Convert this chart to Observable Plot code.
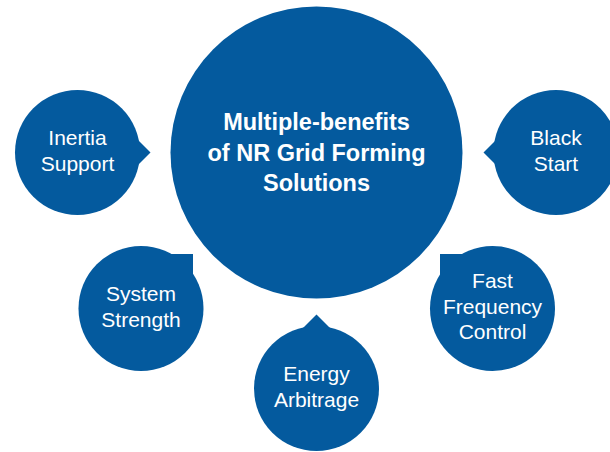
<!DOCTYPE html>
<html>
<head>
<meta charset="utf-8">
<script src="https://cdn.jsdelivr.net/npm/d3@7"></script>
<script src="https://cdn.jsdelivr.net/npm/@observablehq/plot@0.6"></script>
<style>
  html, body { margin: 0; padding: 0; background: #ffffff; }
  #chart svg { display: block; }
</style>
</head>
<body>
<div id="chart"></div>
<script>
// ---- Diagram content ----
const centerLabel = ["Multiple-benefits\nof NR Grid Forming\nSolutions"];
const centerX = [316];
const centerY = [152];

const benefits = ["Inertia\nSupport", "Black\nStart", "System\nStrength", "Energy\nArbitrage", "Fast\nFrequency\nControl"];
const benefitX = [77, 555.5, 140.5, 316, 492];
const benefitY = [152, 152, 308, 388, 308];
// where each bubble's pointer reaches toward the centre circle
const pointerX = [150, 483, 193, 316, 440];
const pointerY = [152, 152, 254, 314, 254];
const pointerKind = ["tip", "tip", "corner", "tip", "corner"];

const BLUE = "#045a9e";
const FONT = "Liberation Sans, Arial, Helvetica, sans-serif";

// ---- build tables for the marks ----
const nodes = benefits.map((label, i) => ({
  label, cx: benefitX[i], cy: benefitY[i], px: pointerX[i], py: pointerY[i], kind: pointerKind[i]
}));
const center = centerLabel.map((label, i) => ({label, cx: centerX[i], cy: centerY[i]}));

// triangular speech-bubble tips
const tipRows = [];
nodes.filter(d => d.kind === "tip").forEach((d, k) => {
  const dx = d.px - d.cx, dy = d.py - d.cy, len = Math.hypot(dx, dy);
  const ux = dx / len, uy = dy / len, vx = -uy, vy = ux, b = 20;
  tipRows.push({id: k, x: d.px, y: d.py});
  tipRows.push({id: k, x: d.px - ux * b + vx * b, y: d.py - uy * b + vy * b});
  tipRows.push({id: k, x: d.px - ux * b - vx * b, y: d.py - uy * b - vy * b});
});
const cornerRows = nodes.filter(d => d.kind === "corner");

const chart = Plot.plot({
  width: 610,
  height: 452,
  margin: 0,
  x: {domain: [0, 610], range: [0, 610], axis: null},
  y: {domain: [0, 452], range: [0, 452], axis: null},
  style: {background: "#ffffff", fontFamily: FONT},
  marks: [
    Plot.dot(center, {x: "cx", y: "cy", r: 146, fill: BLUE, stroke: "none"}),
    Plot.dot(nodes, {x: "cx", y: "cy", r: 62.5, fill: BLUE, stroke: "none"}),
    Plot.rect(cornerRows, {x1: "cx", x2: "px", y1: "cy", y2: "py", fill: BLUE}),
    Plot.line(tipRows, {x: "x", y: "y", z: "id", fill: BLUE, stroke: "none", curve: "linear-closed"}),
    Plot.text(center, {x: "cx", y: "cy", text: "label", fill: "white", fontSize: 23.5, fontWeight: "bold",
      lineHeight: 1.3, fontFamily: FONT, textAnchor: "middle", dy: -1.5}),
    Plot.text(nodes, {x: "cx", y: "cy", text: "label", fill: "white", fontSize: 21,
      lineHeight: 1.22, fontFamily: FONT, textAnchor: "middle", dy: -3})
  ]
});
document.getElementById("chart").appendChild(chart);
</script>
</body>
</html>
